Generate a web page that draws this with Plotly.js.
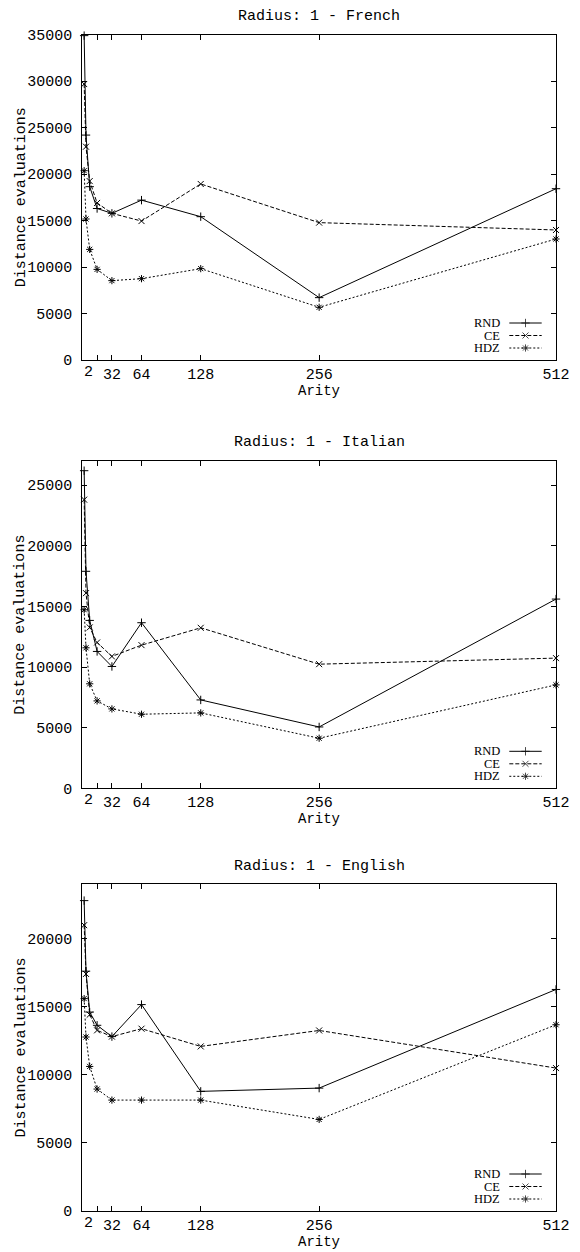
<!DOCTYPE html>
<html>
<head>
<meta charset="utf-8">
<script src="https://cdn.plot.ly/plotly-3.0.1.min.js"></script>
<style>html,body{margin:0;padding:0;background:#fff;}#chart{width:580px;height:1252px;}</style>
</head>
<body>
<div id="chart"></div>
<script>
// ---- data ----
const arity = [2, 4, 8, 16, 32, 64, 128, 256, 512];
const seriesNames = ['RND', 'CE', 'HDZ'];
const panelTitles = ['Radius: 1 - French', 'Radius: 1 - Italian', 'Radius: 1 - English'];
const xTitle = 'Arity';
const yTitle = 'Distance evaluations';

const frRND = [34900, 24200, 18650, 16300, 15780, 17200, 15420, 6710, 18430];
const frCE  = [29690, 22950, 19250, 16900, 15780, 14950, 18940, 14780, 13990];
const frHDZ = [20370, 15170, 11900, 9750, 8540, 8750, 9830, 5670, 13020];

const itRND = [26200, 17900, 13850, 11290, 10050, 13660, 7290, 5060, 15610];
const itCE  = [23810, 16100, 13270, 12030, 10880, 11810, 13240, 10240, 10740];
const itHDZ = [14730, 11590, 8620, 7210, 6550, 6110, 6220, 4130, 8530];

const enRND = [22780, 17600, 14600, 13630, 12800, 15150, 8780, 9020, 16260];
const enCE  = [20980, 17400, 14410, 13260, 12800, 13380, 12080, 13250, 10490];
const enHDZ = [15590, 12770, 10610, 8950, 8140, 8140, 8140, 6720, 13670];

const xTickVals = [16, 32, 64, 128, 256, 512];
const xTickText = ['', '32', '64', '128', '256', '512'];
const yMax = [35000, 27000, 24000];

// ---- layout helpers ----
const W = 580, H = 1252;
const plotL = 82.3, plotR = 556;
const panelTop = [34.7, 461, 884];
const panelBot = [360, 788.3, 1211];
const panelData = [[frRND, frCE, frHDZ], [itRND, itCE, itHDZ], [enRND, enCE, enHDZ]];

const mono = 'Liberation Mono, Courier New, monospace';
const serif = 'Liberation Serif, Times New Roman, serif';
const black = '#000';
const styles = [
  {dash: 'solid', symbol: 'cross-thin'},
  {dash: '4px,2px', symbol: 'x-thin'},
  {dash: '2px,2px', symbol: 'asterisk'}
];

const traces = [];
const layout = {
  width: W, height: H,
  margin: {l: 0, r: 0, t: 0, b: 0},
  paper_bgcolor: '#fff',
  plot_bgcolor: 'rgba(0,0,0,0)',
  showlegend: false,
  font: {family: mono, size: 15, color: black},
  annotations: [],
  shapes: []
};

function ann(o) { layout.annotations.push(Object.assign({showarrow: false, xanchor: 'center', yanchor: 'middle', font: {family: mono, size: 15, color: black}}, o)); }

for (let p = 0; p < 3; p++) {
  const xa = p === 0 ? 'x' : 'x' + (p + 1);
  const ya = p === 0 ? 'y' : 'y' + (p + 1);
  const xk = p === 0 ? 'xaxis' : 'xaxis' + (p + 1);
  const yk = p === 0 ? 'yaxis' : 'yaxis' + (p + 1);
  layout[xk] = {
    domain: [plotL / W, plotR / W],
    anchor: ya,
    range: [0, 512],
    tickmode: 'array', tickvals: xTickVals, ticktext: xTickText,
    ticks: 'inside', ticklen: 5, tickcolor: black, tickwidth: 1,
    showline: true, linecolor: black, linewidth: 1, mirror: 'allticks',
    showgrid: false, zeroline: false,
    tickfont: {family: mono, size: 15, color: black},
    fixedrange: true
  };
  layout[yk] = {
    domain: [1 - panelBot[p] / H, 1 - panelTop[p] / H],
    anchor: xa,
    range: [0, yMax[p]],
    tick0: 0, dtick: 5000, tickformat: 'd',
    ticks: 'inside', ticklen: 5, tickcolor: black, tickwidth: 1,
    ticklabelstandoff: 6,
    showline: true, linecolor: black, linewidth: 1, mirror: 'allticks',
    showgrid: false, zeroline: false,
    tickfont: {family: mono, size: 15, color: black},
    fixedrange: true
  };
  for (let s = 0; s < 3; s++) {
    traces.push({
      type: 'scatter', mode: 'lines+markers',
      x: arity, y: panelData[p][s], name: seriesNames[s],
      xaxis: xa, yaxis: ya, cliponaxis: false,
      line: {color: black, width: 1, dash: styles[s].dash},
      marker: {symbol: styles[s].symbol, size: 6, color: black, line: {color: black, width: 1}}
    });
  }
  // panel title
  ann({xref: 'paper', yref: 'paper', x: (plotL + plotR) / 2 / W, y: 1 - (panelTop[p] - 18) / H, text: panelTitles[p]});
  // axis titles
  if (p < 2) {
    ann({xref: 'paper', yref: 'paper', x: (plotL + plotR) / 2 / W, y: 1 - (panelBot[p] + 31) / H, text: xTitle,
         font: {family: mono, size: 14, color: black}});
  } else {
    ann({xref: 'paper', yref: 'paper', x: (plotL + plotR) / 2 / W, y: 0, yanchor: 'bottom', text: xTitle,
         font: {family: mono, size: 14, color: black}});
  }
  ann({xref: 'paper', yref: 'paper', x: 21 / W, y: 1 - (panelTop[p] + panelBot[p]) / 2 / H, text: yTitle, textangle: -90});
  // "2" label at the left end of the x axis
  ann({xref: xa, yref: 'paper', x: 7, y: 1 - (panelBot[p] + 12.5) / H, text: '2'});
  // legend (gnuplot style: text right-aligned, sample on the right)
  const rowOff = [37, 24.5, 12];
  for (let s = 0; s < 3; s++) {
    const yy = panelBot[p] - rowOff[s];
    ann({xref: 'paper', yref: 'paper', x: 502 / W, y: 1 - yy / H, text: seriesNames[s], xanchor: 'right',
         font: {family: serif, size: 12.5, color: black}});
    traces.push({
      type: 'scatter', mode: 'lines+markers',
      x: [509.3, 525.5, 541.7], y: [yy, yy, yy],
      xaxis: 'x4', yaxis: 'y4', hoverinfo: 'skip',
      line: {color: black, width: 1, dash: styles[s].dash},
      marker: {symbol: styles[s].symbol, size: [0, 6, 0], color: black, line: {color: black, width: 1}}
    });
  }
}

// overlay axis in pixel units, used only for legend samples
layout.xaxis4 = {domain: [0, 1], range: [0, W], visible: false, anchor: 'y4', fixedrange: true};
layout.yaxis4 = {domain: [0, 1], range: [H, 0], visible: false, anchor: 'x4', fixedrange: true};

Plotly.newPlot('chart', traces, layout, {staticPlot: true, displayModeBar: false});
</script>
</body>
</html>
